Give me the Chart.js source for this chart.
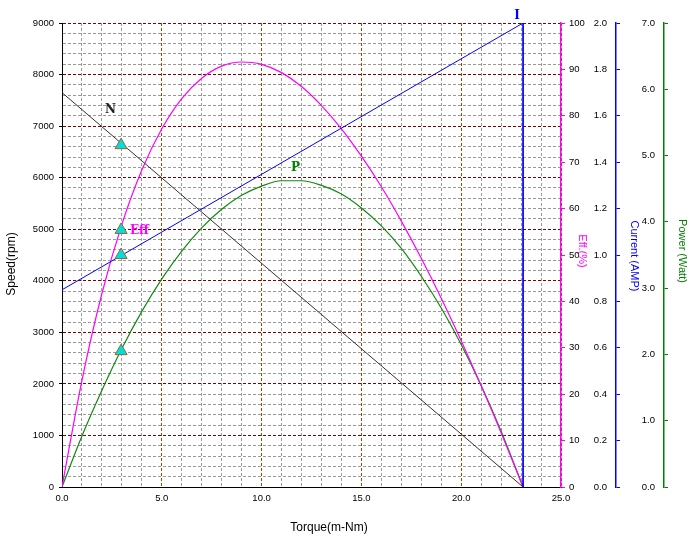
<!DOCTYPE html>
<html>
<head>
<meta charset="utf-8">
<script src="https://cdn.jsdelivr.net/npm/chart.js@4.4.1/dist/chart.umd.min.js"></script>
<style>
  html, body { margin: 0; padding: 0; background: #fff; }
</style>
</head>
<body>
<canvas id="motorChart" width="691" height="540"></canvas>
<script>
// ---- curve data ----
const torque      = [0, 1, 2, 3, 4, 5, 6, 7, 8, 9, 10, 11, 12, 13, 14, 15, 16, 17, 18, 19, 20, 21, 22, 23.1];
const effValues   = [0, 23.0, 41.7, 56.6, 68.3, 77.2, 83.7, 88.1, 90.7, 91.6, 91.1, 89.3, 86.3, 82.2, 77.2, 71.3, 64.7, 57.3, 49.3, 40.7, 31.5, 21.8, 11.7, 0];
const powerValues = [0, 0.77, 1.46, 2.09, 2.65, 3.14, 3.56, 3.91, 4.19, 4.40, 4.54, 4.62, 4.62, 4.55, 4.42, 4.21, 3.94, 3.60, 3.18, 2.70, 2.15, 1.53, 0.84, 0];

const speedTorque   = [0, 23.1];
const speedValues   = [7650, 0];
const currentTorque = [0, 23.1, 23.1];
const currentValues = [0.85, 2.0, 0];

// marked operating point
const markTorque  = 2.96;
const markSpeed   = 6630;
const markEff     = 55.4;
const markCurrent = 1.0;
const markPower   = 2.05;

// curve name labels
const labelTexts  = ['N', 'Eff', 'P', 'I'];
const labelAxes   = ['y', 'yEff', 'yPow', 'yCur'];
const labelTorque = [2.43, 3.88, 11.7, 22.8];
const labelValues = [7320, 55.2, 4.81, 2.03];
const labelColors = ['#222', '#ff00ff', '#008000', '#0000ff'];

// axis ranges
const torqueRange  = [0, 25];
const speedRange   = [0, 9000];
const effRange     = [0, 100];
const currentRange = [0, 2.0];
const powerRange   = [0, 7.0];

const tickFont = { family: 'Liberation Sans, Arial, sans-serif', size: 9.5 };

function points(xs, ys) {
    return xs.map((x, i) => ({ x: x, y: ys[i] }));
}

function marker(y, axis) {
    return {
        data: [{ x: markTorque, y: y }],
        yAxisID: axis,
        showLine: false,
        pointStyle: 'triangle',
        pointRadius: 7,
        pointBackgroundColor: '#00dede',
        pointBorderColor: '#996633',
        pointBorderWidth: 1,
        order: 0
    };
}

// titles and curve names drawn on top
const textPlugin = {
    id: 'textPlugin',
    afterDraw(chart) {
        const ctx = chart.ctx;
        const s = chart.scales;
        ctx.save();
        ctx.textAlign = 'center';
        ctx.textBaseline = 'middle';

        ctx.font = '12px "Liberation Sans", Arial, sans-serif';
        ctx.fillStyle = '#000';
        ctx.fillText('Torque(m-Nm)', 329, 528);

        ctx.save();
        ctx.translate(12, 264);
        ctx.rotate(-Math.PI / 2);
        ctx.fillText('Speed(rpm)', 0, 0);
        ctx.restore();

        const rightTitles = [
            ['Eff.(%)', s.yEff.left + 21, 251, '#ff00ff'],
            ['Current (AMP)', s.yCur.left + 18, 256, '#0000ff'],
            ['Power (Watt)', s.yPow.left + 18, 251, '#008000']
        ];
        ctx.font = '11px "Liberation Sans", Arial, sans-serif';
        rightTitles.forEach(t => {
            ctx.save();
            ctx.translate(t[1], t[2]);
            ctx.rotate(Math.PI / 2);
            ctx.fillStyle = t[3];
            ctx.fillText(t[0], 0, 0);
            ctx.restore();
        });

        ctx.font = 'bold 12px "DejaVu Serif", serif';
        labelTexts.forEach((txt, i) => {
            const px = s.x.getPixelForValue(labelTorque[i]);
            const py = s[labelAxes[i]].getPixelForValue(labelValues[i]);
            ctx.fillStyle = labelColors[i];
            ctx.fillText(txt, px, py);
        });
        ctx.restore();
    }
};

new Chart(document.getElementById('motorChart'), {
    type: 'line',
    data: {
        datasets: [
            { data: points(speedTorque, speedValues), yAxisID: 'y', borderColor: '#333333', borderWidth: 1, pointRadius: 0, tension: 0, order: 1 },
            { data: points(currentTorque, currentValues), yAxisID: 'yCur', borderColor: '#0000ff', borderWidth: 1, pointRadius: 0, tension: 0, order: 1 },
            { data: points(torque, effValues), yAxisID: 'yEff', borderColor: '#ff00ff', borderWidth: 1.2, pointRadius: 0, cubicInterpolationMode: 'monotone', order: 1 },
            { data: points(torque, powerValues), yAxisID: 'yPow', borderColor: '#108a10', borderWidth: 1.2, pointRadius: 0, cubicInterpolationMode: 'monotone', order: 1 },
            marker(markSpeed, 'y'),
            marker(markEff, 'yEff'),
            marker(markCurrent, 'yCur'),
            marker(markPower, 'yPow')
        ]
    },
    options: {
        responsive: false,
        animation: false,
        layout: { padding: { top: 23, left: 0, right: 0, bottom: 0 } },
        plugins: {
            legend: { display: false },
            tooltip: { enabled: false }
        },
        scales: {
            x: {
                type: 'linear',
                min: torqueRange[0],
                max: torqueRange[1],
                ticks: {
                    stepSize: 1,
                    autoSkip: false,
                    maxRotation: 0,
                    padding: 6,
                    color: '#000',
                    font: tickFont,
                    callback: v => v % 5 === 0 ? v.toFixed(1) : ''
                },
                grid: {
                    drawTicks: false,
                    color: c => (c.tick && c.tick.value % 5 === 0) ? '#a84000' : '#9a9a9a'
                },
                border: { color: '#000', width: 1, dash: [3, 2] },
                afterFit: scale => { scale.height = 53; }
            },
            y: {
                position: 'left',
                min: speedRange[0],
                max: speedRange[1],
                ticks: {
                    stepSize: 200,
                    autoSkip: false,
                    padding: 5,
                    color: '#000',
                    font: tickFont,
                    callback: v => v % 1000 === 0 ? String(v) : ''
                },
                grid: {
                    tickLength: 3,
                    color: c => (c.tick && c.tick.value % 1000 === 0) ? '#800000' : '#9a9a9a',
                    tickColor: c => (c.tick && c.tick.value % 1000 === 0) ? '#000' : 'rgba(0,0,0,0)'
                },
                border: { color: '#000', width: 1, dash: [3, 2] },
                afterFit: scale => { scale.width = 62; }
            },
            yEff: {
                position: 'right',
                weight: 0,
                min: effRange[0],
                max: effRange[1],
                ticks: { stepSize: 10, padding: 4, color: '#000', font: tickFont },
                grid: { drawOnChartArea: false, tickLength: 4, tickColor: '#ff00ff' },
                border: { color: '#ff00ff', width: 1.5 },
                afterFit: scale => { scale.width = 55; }
            },
            yCur: {
                position: 'right',
                weight: 1,
                min: currentRange[0],
                max: currentRange[1],
                ticks: { stepSize: 0.2, mirror: true, padding: -9, color: '#000', font: tickFont, callback: v => v.toFixed(1) },
                grid: { drawOnChartArea: false, tickLength: 4, tickColor: '#0000ff' },
                border: { color: '#0000ff', width: 1.5 },
                afterFit: scale => { scale.width = 48; }
            },
            yPow: {
                position: 'right',
                weight: 2,
                min: powerRange[0],
                max: powerRange[1],
                ticks: { stepSize: 1, mirror: true, padding: -9, color: '#000', font: tickFont, callback: v => v.toFixed(1) },
                grid: { drawOnChartArea: false, tickLength: 4, tickColor: '#008000' },
                border: { color: '#008000', width: 1.5 },
                afterFit: scale => { scale.width = 27; }
            }
        }
    },
    plugins: [textPlugin]
});
</script>
</body>
</html>
